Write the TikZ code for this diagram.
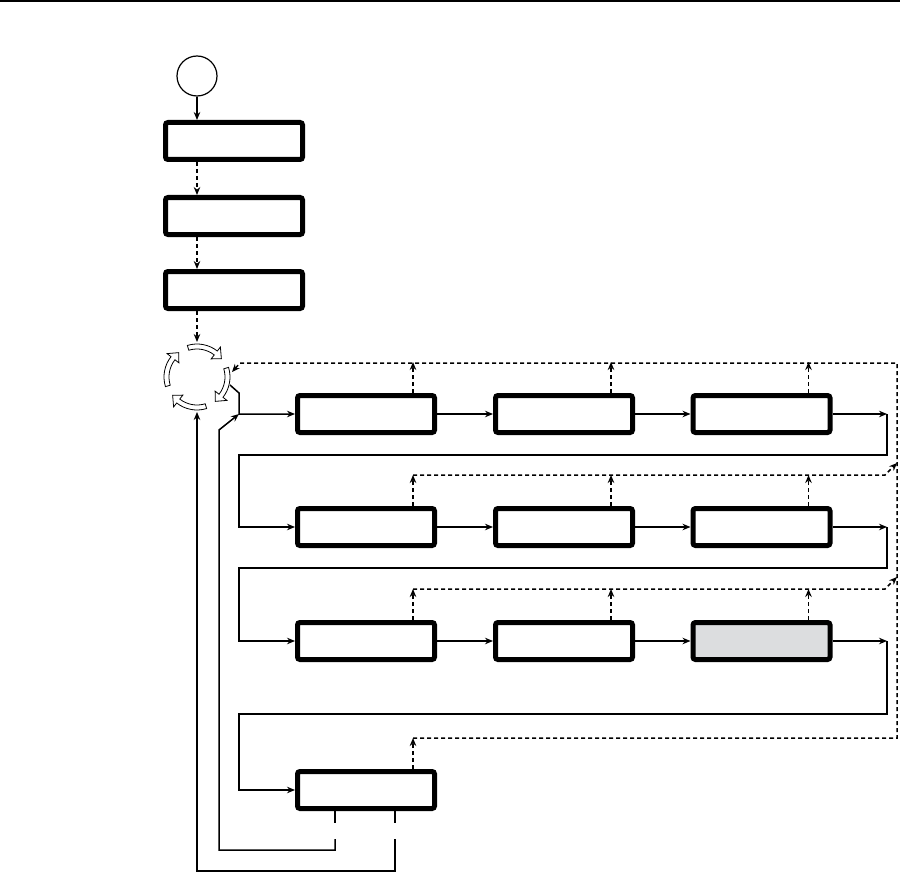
\documentclass[tikz,border=0pt]{standalone}
\usepackage{tikz}
\usetikzlibrary{arrows.meta}

\definecolor{boxgray}{RGB}{220,221,223}

%% one outlined curved arrow of the cycle icon, #1 = start angle
\newcommand{\cycarr}[1]{%
  \draw[fill=white, line width=0.8pt]
    (#1:33) arc[start angle=#1, end angle={#1-55}, radius=33]
    -- ({#1-55}:38) -- ({#1-70}:30.5) -- ({#1-55}:23) -- ({#1-55}:28)
    arc[start angle={#1-55}, end angle=#1, radius=28] -- cycle;
}

\begin{document}
\begin{tikzpicture}[
  x=1pt, y=-1pt,
  >={Stealth[length=8pt,width=6.5pt]},
  blk/.style={draw, line width=5pt, rounded corners=2.5pt, fill=white,
              minimum width=137pt, minimum height=37pt, inner sep=0pt},
  gblk/.style={blk, fill=boxgray},
  flow/.style={line width=1.5pt},
  fb/.style={line width=1.5pt, dash pattern=on 4pt off 3pt},
]
  \useasboundingbox (0,0) rectangle (900,872);

  %% rule at the top of the page
  \draw[line width=2pt] (0,1) -- (900,1);

  %% start and set-up column
  \node[circle, draw, line width=1.2pt, minimum size=40pt, inner sep=0pt] (st) at (197,76) {};
  \node[blk] (in1) at (234,141) {};
  \node[blk] (in2) at (234,216) {};
  \node[blk] (in3) at (234,290) {};

  %% cycle icon and its ports
  \coordinate (cyc)   at (197,377);
  \coordinate (cyc-n) at (197,342);
  \coordinate (cyc-s) at (197,412);
  \coordinate (cyc-e) at (232,372);
  \coordinate (cyc-o) at (230,385);
  \coordinate (cyc-r) at (240,363);
  \begin{scope}[shift={(cyc)}, y=1pt]
    \cycarr{107}
    \cycarr{17}
    \cycarr{-73}
    \cycarr{-163}
  \end{scope}

  %% row 1
  \node[blk] (s11) at (366,414) {};
  \node[blk] (s12) at (564,414) {};
  \node[blk] (s13) at (761.5,414) {};
  %% row 2
  \node[blk] (s21) at (366,527) {};
  \node[blk] (s22) at (564,527) {};
  \node[blk] (s23) at (761.5,527) {};
  %% row 3
  \node[blk] (s31) at (366,641) {};
  \node[blk] (s32) at (564,641) {};
  \node[gblk] (s33) at (761.5,641) {};
  %% row 4
  \node[blk] (s41) at (366,790) {};

  %% helper columns
  \coordinate (lx)  at (239,0);
  \coordinate (rx)  at (887,0);
  \coordinate (dx)  at (885,0);
  \coordinate (fbt) at (897,363);
  \coordinate (jn)  at (239,414);
  \coordinate (lp1) at (219,850);
  \coordinate (lp2) at (219,430);
  \coordinate (lp3) at (197,871);

  %% set-up chain
  \draw[flow, ->] (st.south) -- (st |- in1.north);
  \draw[fb, ->] (st |- in1.south) -- (st |- in2.north);
  \draw[fb, ->] (st |- in2.south) -- (st |- in3.north);
  \draw[fb, ->] (st |- in3.south) -- (cyc-n);

  %% out of the cycle into row 1
  \draw[flow, ->] (cyc-o) -- (239,393) -- (jn) -- (s11.west);

  %% solid flow along the rows
  \draw[flow, ->] (s11.east) -- (s12.west);
  \draw[flow, ->] (s12.east) -- (s13.west);
  \draw[flow, ->] (s13.east) -- (s13.east -| rx);
  \draw[flow, ->] (s13.east -| rx) -- ++(0,41) -| (lx |- s21) -- (s21.west);
  \draw[flow, ->] (s21.east) -- (s22.west);
  \draw[flow, ->] (s22.east) -- (s23.west);
  \draw[flow, ->] (s23.east) -- (s23.east -| rx);
  \draw[flow, ->] (s23.east -| rx) -- ++(0,41) -| (lx |- s31) -- (s31.west);
  \draw[flow, ->] (s31.east) -- (s32.west);
  \draw[flow, ->] (s32.east) -- (s33.west);
  \draw[flow, ->] (s33.east) -- (s33.east -| rx);
  \draw[flow, ->] (s33.east -| rx) -- ++(0,73) -| (lx |- s41) -- (s41.west);

  %% loops back from the last step
  \draw[flow] ([xshift=-31pt]s41.south) -- ++(0,12);
  \draw[flow] ([xshift=29pt]s41.south) -- ++(0,12);
  \draw[flow, ->] ([xshift=-31pt,yshift=-28pt]s41.south) |- (lp1) -- (lp2) -- (jn);
  \draw[flow, ->] ([xshift=29pt,yshift=-28pt]s41.south) |- (lp3) -- (cyc-s);

  %% dashed feedback, row 1
  \draw[fb, ->] ([xshift=47pt]s11.north) -- ++(0,-31);
  \draw[fb, ->] ([xshift=47pt]s12.north) -- ++(0,-31);
  \draw[fb, ->] ([xshift=47pt]s13.north) -- ++(0,-31);
  %% dashed feedback, row 2
  \draw[fb, ->] ([xshift=47pt]s21.north) -- ++(0,-31);
  \draw[fb, ->] ([xshift=47pt]s22.north) -- ++(0,-31);
  \draw[fb, ->] ([xshift=47pt]s23.north) -- ++(0,-31);
  \draw[fb, ->] ([xshift=47pt,yshift=31pt]s21.north) -- ([yshift=31pt]s21.north -| dx) -- ++(12,-12);
  %% dashed feedback, row 3
  \draw[fb, ->] ([xshift=47pt]s31.north) -- ++(0,-31);
  \draw[fb, ->] ([xshift=47pt]s32.north) -- ++(0,-31);
  \draw[fb, ->] ([xshift=47pt]s33.north) -- ++(0,-31);
  \draw[fb, ->] ([xshift=47pt,yshift=31pt]s31.north) -- ([yshift=31pt]s31.north -| dx) -- ++(12,-12);
  %% dashed feedback, row 4 and the return line
  \draw[fb, ->] ([xshift=47pt]s41.north) -- ++(0,-31);
  \draw[fb, ->] ([xshift=47pt,yshift=31pt]s41.north) -| (fbt) -- (cyc-r) -- (cyc-e);
\end{tikzpicture}
\end{document}
